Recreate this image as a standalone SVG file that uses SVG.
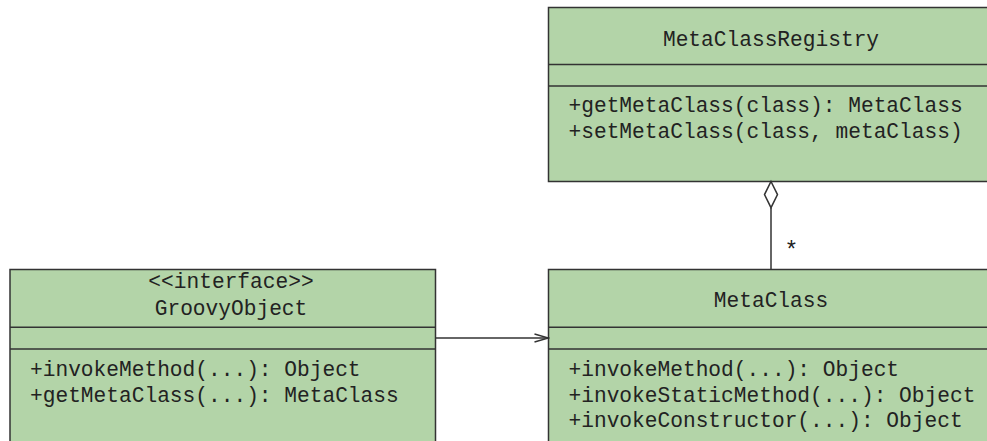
<svg xmlns="http://www.w3.org/2000/svg" width="987" height="441" viewBox="0 0 987 441">
<style>
.box{fill:#b3d4a8;stroke:#333;stroke-width:1.5}
.div{stroke:#333;stroke-width:1.5;fill:none}
.t{font-family:"Liberation Mono","DejaVu Sans Mono",monospace;font-size:21.2px;fill:#222}
.c{text-anchor:middle}
.conn{stroke:#333;stroke-width:1.5;fill:none}
</style>
<defs>
<marker id="open" viewBox="0 0 16 10" refX="15" refY="5" markerWidth="16" markerHeight="10" markerUnits="userSpaceOnUse" orient="auto">
<path d="M1,1 L15,5 L1,9" fill="none" stroke="#333" stroke-width="1.5"/>
</marker>
</defs>
<rect x="0" y="0" width="987" height="441" fill="#fff"/>
<g id="MetaClassRegistry">
<rect class="box" x="548.5" y="7.5" width="445" height="174"/>
<line class="div" x1="548.5" y1="64.5" x2="993.5" y2="64.5"/>
<line class="div" x1="548.5" y1="86" x2="993.5" y2="86"/>
<text class="t c" x="771" y="46">MetaClassRegistry</text>
<text class="t" x="568.5" y="112">+getMetaClass(class): MetaClass</text>
<text class="t" x="568.5" y="137.5">+setMetaClass(class, metaClass)</text>
</g>
<g id="GroovyObject">
<rect class="box" x="10" y="269.5" width="425.5" height="190"/>
<line class="div" x1="10" y1="327.3" x2="435.5" y2="327.3"/>
<line class="div" x1="10" y1="349" x2="435.5" y2="349"/>
<text class="t c" x="231" y="288">&lt;&lt;interface&gt;&gt;</text>
<text class="t c" x="231" y="315">GroovyObject</text>
<text class="t" x="30" y="376">+invokeMethod(...): Object</text>
<text class="t" x="30" y="401.5">+getMetaClass(...): MetaClass</text>
</g>
<g id="MetaClass">
<rect class="box" x="548.5" y="269.5" width="445" height="190"/>
<line class="div" x1="548.5" y1="327.3" x2="993.5" y2="327.3"/>
<line class="div" x1="548.5" y1="349" x2="993.5" y2="349"/>
<text class="t c" x="771" y="306.7">MetaClass</text>
<text class="t" x="568.5" y="376">+invokeMethod(...): Object</text>
<text class="t" x="568.5" y="401.5">+invokeStaticMethod(...): Object</text>
<text class="t" x="568.5" y="427">+invokeConstructor(...): Object</text>
</g>
<g id="connectors">
<line class="conn" x1="435.5" y1="338" x2="548.5" y2="338" marker-end="url(#open)"/>
<path class="conn" d="M771,181.5 L777.5,194.6 L771,207.7 L764.5,194.6 Z" fill="#fff"/>
<line class="conn" x1="771" y1="207.7" x2="771" y2="269.5"/>
<text class="t" x="784.5" y="258" style="font-size:23px">*</text>
</g>
</svg>
